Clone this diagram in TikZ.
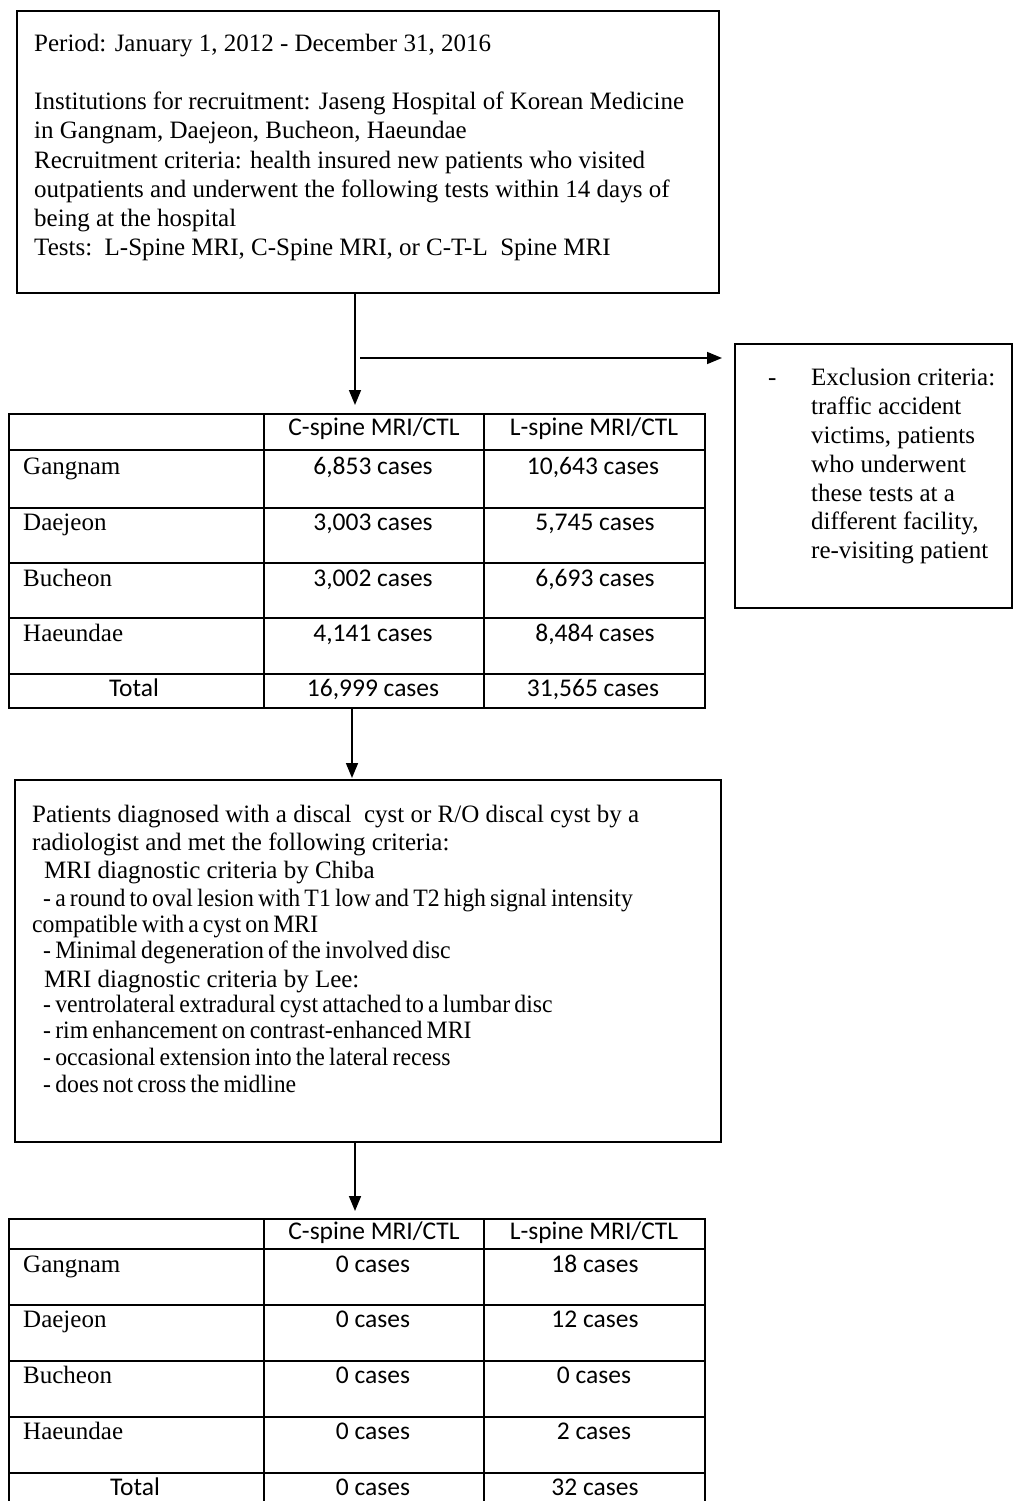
\documentclass[tikz,border=0pt]{standalone}
\usepackage{fontspec}
\setmainfont{Liberation Serif}
\newfontfamily\calfont{Carlito}
\newfontfamily\condfont[FakeStretch=0.95,WordSpace=0.7]{Liberation Serif}
\usetikzlibrary{arrows.meta}
\begin{document}
\begin{tikzpicture}[x=1pt,y=-1pt,
  frame/.style={draw=black, line width=1.6pt, inner sep=0pt, anchor=north west},
  rule/.style={draw=black, line width=1.6pt},
  txt/.style={inner sep=0pt, anchor=base west, font=\fontsize{25}{29}\selectfont},
  ctxt/.style={inner sep=0pt, anchor=base west, font=\condfont\fontsize{25}{29}\selectfont},
  num/.style={inner sep=0pt, anchor=base, font=\calfont\fontsize{25.5}{29}\selectfont},
  lab/.style={inner sep=0pt, anchor=base west, font=\fontsize{25}{29}\selectfont},
  arr/.style={draw=black, line width=1.6pt, -{Triangle[length=15pt,width=12pt]}}]
\useasboundingbox (0,0) rectangle (1013,1501);
\fill[white] (0,0) rectangle (1013,1501);
\clip (0,0) rectangle (1013,1501);

% ---------- top box ----------
\node[frame, minimum width=702pt, minimum height=282pt] (top) at (16,10) {};
\node[txt] (p1) at (34,52) {Period: January 1, 2012 - December 31, 2016};
\node[txt] (p2) at (34,110) {Institutions for recruitment: Jaseng Hospital of Korean Medicine};
\node[txt] (p3) at (34,139) {in Gangnam, Daejeon, Bucheon, Haeundae};
\node[txt] (p4) at (34,168) {Recruitment criteria: health insured new patients who visited};
\node[txt] (p5) at (34,197) {outpatients and underwent the following tests within 14 days of};
\node[txt] (p6) at (34,226) {being at the hospital};
\node[txt] (p7) at (34,255) {Tests:\ \ L-Spine MRI, C-Spine MRI, or C-T-L\ \ Spine MRI};

% ---------- exclusion box ----------
\node[frame, minimum width=277pt, minimum height=264pt] (excl) at (734,343) {};
\node[txt] (ed) at (768,385) {-};
\node[txt] (e1) at (811,385) {Exclusion criteria:};
\node[txt] (e2) at (811,414) {traffic accident};
\node[txt] (e3) at (811,443) {victims, patients};
\node[txt] (e4) at (811,472) {who underwent};
\node[txt] (e5) at (811,501) {these tests at a};
\node[txt] (e6) at (811,529) {different facility,};
\node[txt] (e7) at (811,558) {re-visiting patient};

% ---------- table 1 ----------
\node[frame, minimum width=696pt, minimum height=294pt] (t1) at (8,413) {};
\draw[rule] (264,413) -- (264,707);
\draw[rule] (484,413) -- (484,707);
\foreach \yy in {450,508,563,618,674} \draw[rule] (8,\yy) -- (704,\yy);
\node[num] (t1h1) at (374,435) {C-spine MRI/CTL};
\node[num] (t1h2) at (594,435) {L-spine MRI/CTL};
\node[lab] (t1r1) at (23,474) {Gangnam};
\node[lab] (t1r2) at (23,530) {Daejeon};
\node[lab] (t1r3) at (23,586) {Bucheon};
\node[lab] (t1r4) at (23,641) {Haeundae};
\node[num] (t1r5) at (134,696) {Total};
\node[num] (t1a1) at (373,474) {6,853 cases};
\node[num] (t1a2) at (373,530) {3,003 cases};
\node[num] (t1a3) at (373,586) {3,002 cases};
\node[num] (t1a4) at (373,641) {4,141 cases};
\node[num] (t1a5) at (373,696) {16,999 cases};
\node[num] (t1b1) at (593,474) {10,643 cases};
\node[num] (t1b2) at (595,530) {5,745 cases};
\node[num] (t1b3) at (595,586) {6,693 cases};
\node[num] (t1b4) at (595,641) {8,484 cases};
\node[num] (t1b5) at (593,696) {31,565 cases};

% ---------- criteria box ----------
\node[frame, minimum width=706pt, minimum height=362pt] (crit) at (14,779) {};
\node[txt] (c1) at (32,822) {Patients diagnosed with a discal\ \ cyst or R/O discal cyst by a};
\node[txt] (c2) at (32,850) {radiologist and met the following criteria:};
\node[txt] (c3) at (44,878) {MRI diagnostic criteria by Chiba};
\node[ctxt] (c4) at (43,906) {- a round to oval lesion with T1 low and T2 high signal intensity};
\node[ctxt] (c5) at (32,932) {compatible with a cyst on MRI};
\node[ctxt] (c6) at (43,958) {- Minimal degeneration of the involved disc};
\node[txt] (c7) at (44,987) {MRI diagnostic criteria by Lee:};
\node[ctxt] (c8) at (43,1012) {- ventrolateral extradural cyst attached to a lumbar disc};
\node[ctxt] (c9) at (43,1038) {- rim\ enhancement on contrast-enhanced MRI};
\node[ctxt] (c10) at (43,1065) {- occasional extension into the lateral recess};
\node[ctxt] (c11) at (43,1092) {- does not cross the midline};

% ---------- table 2 ----------
\node[frame, minimum width=696pt, minimum height=310pt] (t2) at (8,1218) {};
\draw[rule] (264,1218) -- (264,1528);
\draw[rule] (484,1218) -- (484,1528);
\foreach \yy in {1249,1305,1361,1417,1473} \draw[rule] (8,\yy) -- (704,\yy);
\node[num] (t2h1) at (374,1239) {C-spine MRI/CTL};
\node[num] (t2h2) at (594,1239) {L-spine MRI/CTL};
\node[lab] (t2r1) at (23,1272) {Gangnam};
\node[lab] (t2r2) at (23,1327) {Daejeon};
\node[lab] (t2r3) at (23,1383) {Bucheon};
\node[lab] (t2r4) at (23,1439) {Haeundae};
\node[num] (t2r5) at (135,1495) {Total};
\node[num] (t2a1) at (373,1272) {0 cases};
\node[num] (t2a2) at (373,1327) {0 cases};
\node[num] (t2a3) at (373,1383) {0 cases};
\node[num] (t2a4) at (373,1439) {0 cases};
\node[num] (t2a5) at (373,1495) {0 cases};
\node[num] (t2b1) at (595,1272) {18 cases};
\node[num] (t2b2) at (595,1327) {12 cases};
\node[num] (t2b3) at (594,1383) {0 cases};
\node[num] (t2b4) at (594,1439) {2 cases};
\node[num] (t2b5) at (595,1495) {32 cases};

% ---------- connectors ----------
\coordinate (xa) at (355,0);
\coordinate (xb) at (352,0);
\coordinate (split) at (360,358);
\draw[arr, shorten >=8pt] (top.south -| xa) -- (t1.north -| xa);
\draw[arr, shorten >=12pt] (split) -- (excl.west |- split);
\draw[arr, shorten >=1pt] (t1.south -| xb) -- (crit.north -| xb);
\draw[arr, shorten >=7pt] (crit.south -| xa) -- (t2.north -| xa);
\end{tikzpicture}
\end{document}
